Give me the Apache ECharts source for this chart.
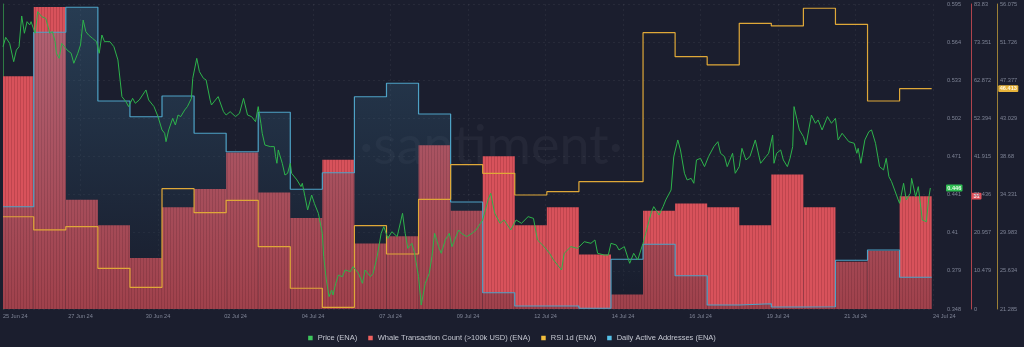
<!DOCTYPE html>
<html>
<head>
<meta charset="utf-8">
<title>ENA — Price, Whale Transactions, RSI, Active Addresses</title>
<script src="https://cdn.jsdelivr.net/npm/echarts@6.0.0/dist/echarts.min.js"></script>
<style>
  html, body { margin: 0; padding: 0; background: #1b1e2e; }
  #chart { width: 1024px; height: 347px; }
</style>
</head>
<body>
<div id="chart"></div>
<script>
// Time is measured in hours from 25 Jun 2024 01:00; the view spans 29 days.
const xTickLabels = ['25 Jun 24', '27 Jun 24', '30 Jun 24', '02 Jul 24', '04 Jul 24', '07 Jul 24',
  '09 Jul 24', '12 Jul 24', '14 Jul 24', '16 Jul 24', '19 Jul 24', '21 Jul 24', '24 Jul 24'];

const priceTickLabels = ['0.348', '0.379', '0.41', '0.441', '0.471', '0.502', '0.533', '0.564', '0.595'];
const whaleTickLabels = ['0', '10.479', '20.957', '31.436', '41.915', '52.394', '62.872', '73.351', '83.83'];
const rsiTickLabels = ['21.285', '25.634', '29.983', '34.331', '38.68', '43.029', '47.377', '51.726', '56.075'];

// Daily metrics, one value per day (first and last day are partial).
const whaleCount = [64, 83, 30, 23, 14, 28, 33, 43, 32, 25, 41, 18, 20, 45, 27, 42, 23, 28, 15, 4,
  27, 29, 28, 23, 37, 28, 13, 16, 31];
const activeAddresses = [818, 2214, 2414, 1664, 1538, 1704, 1406, 1258, 1574, 958, 1090, 1698, 1806,
  1560, 856, 130, 24, 24, 6, 398, 518, 266, 32, 42, 16, 18, 390, 472, 254];
const rsi1d = [31.81, 30.30, 30.67, 25.93, 23.76, 35.01, 32.27, 33.68, 28.39, 23.65, 21.48, 30.79,
  27.56, 33.80, 37.75, 36.76, 34.29, 34.67, 35.81, 35.81, 52.80, 50.07, 49.12, 53.87, 53.57, 55.59,
  53.76, 45.01, 46.413];

// Intraday ENA price (USD).
const priceHours = [0, 2, 5, 8, 10, 12, 14, 16, 18, 20, 21, 24, 26, 27, 29, 32, 35, 37, 39, 40, 42, 44,
  46, 48, 51, 53, 56, 58, 60, 62, 64, 67, 70, 72, 74, 76, 80, 83, 86, 89, 92, 94, 97, 99, 102, 107,
  109, 113, 116, 119, 121, 122, 124, 127, 129, 131, 133, 136, 138, 141, 142, 143, 145, 147, 150, 152,
  155, 156, 161, 165, 167, 170, 174, 177, 180, 183, 186, 189, 191, 193, 194, 196, 200, 203, 204, 205,
  206, 209, 211, 213, 215, 216, 220, 223, 224, 226, 228, 231, 233, 236, 239, 240, 242, 244, 246, 247,
  249, 250, 251, 254, 256, 260, 262, 266, 269, 271, 275, 277, 280, 283, 285, 288, 291, 295, 299, 301,
  303, 306, 308, 311, 313, 316, 319, 321, 323, 326, 328, 331, 334, 336, 341, 343, 347, 351, 354, 359,
  363, 365, 368, 372, 375, 380, 384, 388, 393, 397, 400, 405, 409, 412, 418, 420, 425, 430, 435, 440,
  443, 445, 450, 453, 455, 459, 461, 465, 469, 472, 475, 479, 481, 485, 487, 491, 494, 496, 500, 502,
  505, 507, 510, 512, 515, 517, 519, 522, 525, 528, 532, 535, 537, 540, 542, 546, 548, 551, 553, 556,
  559, 563, 567, 571, 573, 576, 577, 579, 582, 584, 587, 589, 591, 592, 596, 599, 601, 603, 605, 608,
  610, 613, 617, 620, 623, 625, 628, 633, 637, 639, 640, 642, 645, 648, 650, 653, 656, 659, 661, 663,
  665, 670, 671, 674, 676, 679, 680, 683, 685, 688, 691, 693, 694];
const priceUsd = [0.5604, 0.5680, 0.5631, 0.5483, 0.5577, 0.5604, 0.5853, 0.5713, 0.5807, 0.5780,
  0.5807, 0.5713, 0.5888, 0.5880, 0.5847, 0.5834, 0.5713, 0.5726, 0.5645, 0.5551, 0.5510, 0.5631,
  0.5604, 0.5577, 0.5551, 0.5470, 0.5551, 0.5618, 0.5820, 0.5726, 0.5699, 0.5672, 0.5645, 0.5551,
  0.5699, 0.5645, 0.5645, 0.5604, 0.5497, 0.5200, 0.5159, 0.5119, 0.5186, 0.5146, 0.5173, 0.5254,
  0.5173, 0.5119, 0.5038, 0.4930, 0.4903, 0.4835, 0.4930, 0.5024, 0.4970, 0.5051, 0.5038, 0.5092,
  0.5119, 0.5186, 0.5348, 0.5335, 0.5510, 0.5402, 0.5348, 0.5335, 0.5173, 0.5132, 0.5200, 0.5078,
  0.5051, 0.5078, 0.5038, 0.5065, 0.5186, 0.5051, 0.5038, 0.4997, 0.5119, 0.4984, 0.4903, 0.4808,
  0.4795, 0.4795, 0.4714, 0.4660, 0.4768, 0.4660, 0.4565, 0.4579, 0.4660, 0.4579, 0.4525, 0.4471,
  0.4498, 0.4390, 0.4282, 0.4403, 0.4336, 0.4255, 0.4093, 0.3904, 0.3715, 0.3580, 0.3634, 0.3593,
  0.3688, 0.3674, 0.3755, 0.3742, 0.3796, 0.3782, 0.3823, 0.3769, 0.3688, 0.3796, 0.3742, 0.3769,
  0.3904, 0.4093, 0.4147, 0.4052, 0.4106, 0.4066, 0.4255, 0.4093, 0.3971, 0.4012, 0.3931, 0.3742,
  0.3512, 0.3688, 0.3769, 0.3904, 0.4093, 0.3985, 0.3931, 0.4039, 0.4093, 0.3985, 0.4120, 0.4093,
  0.4066, 0.4093, 0.4120, 0.4201, 0.4363, 0.4417, 0.4255, 0.4174, 0.4201, 0.4120, 0.4201, 0.4174,
  0.4228, 0.4214, 0.4039, 0.3985, 0.3931, 0.3877, 0.3796, 0.3931, 0.3985, 0.3971, 0.4025, 0.4012,
  0.4039, 0.3931, 0.3917, 0.3917, 0.4012, 0.3998, 0.3958, 0.3985, 0.3850, 0.3931, 0.3877, 0.4012,
  0.4093, 0.4255, 0.4309, 0.4241, 0.4309, 0.4363, 0.4444, 0.4714, 0.4849, 0.4768, 0.4579, 0.4525,
  0.4538, 0.4498, 0.4687, 0.4700, 0.4633, 0.4714, 0.4795, 0.4835, 0.4741, 0.4714, 0.4633, 0.4741,
  0.4579, 0.4633, 0.4781, 0.4687, 0.4714, 0.4849, 0.4660, 0.4714, 0.4741, 0.4889, 0.4660, 0.4741,
  0.4768, 0.4687, 0.4633, 0.4700, 0.4795, 0.5119, 0.4930, 0.4876, 0.4808, 0.4930, 0.5051, 0.4984,
  0.5011, 0.4930, 0.5038, 0.4984, 0.5024, 0.4849, 0.4903, 0.4835, 0.4822, 0.4741, 0.4781, 0.4660,
  0.4849, 0.4916, 0.4930, 0.4822, 0.4633, 0.4606, 0.4700, 0.4552, 0.4511, 0.4363, 0.4336, 0.4498,
  0.4363, 0.4417, 0.4538, 0.4390, 0.4471, 0.4201, 0.4187, 0.4390, 0.446];

// ---- layout / style ----
const FONT = 'Liberation Sans';
const HOURS = 696;                 // 29 days
const X_STEP = HOURS / 12;         // one x tick every 58 h
const priceAxis = { min: 0.348, max: 0.595 };
const whaleAxis = { min: 0, max: 83.83 };
const rsiAxis = { min: 21.285, max: 56.075 };
const daaAxis = { min: 0, max: 2440 };

const dayStart = k => (k === 0 ? 0 : 24 * k - 1);
const dayEnd = k => 24 * k + 23;

// Step-line data: each day's value held across its span, closed at the last day's end.
function stepData(values) {
  const d = values.map((v, k) => [dayStart(k), v]);
  d.push([dayEnd(values.length - 1), values[values.length - 1]]);
  return d;
}

// Fine vertical striping used for the whale-count columns.
function stripePattern() {
  const c = document.createElement('canvas');
  c.width = 3; c.height = 4;
  const g = c.getContext('2d');
  g.fillStyle = '#d8525b'; g.fillRect(0, 0, 3, 4);
  g.fillStyle = '#bf454e'; g.fillRect(2, 0, 1, 4);
  return { image: c, repeat: 'repeat' };
}
const whaleFill = stripePattern();

function tickFormatter(labels, axis) {
  const step = (axis.max - axis.min) / (labels.length - 1);
  return v => labels[Math.round((v - axis.min) / step)] ?? '';
}

const axisLabelStyle = { color: '#7f8496', fontSize: 5.6, fontFamily: FONT, margin: 3 };

function valueAxis(axis, labels, offset, lineColor, withGrid) {
  return {
    type: 'value', position: 'right', offset,
    min: axis.min, max: axis.max, interval: (axis.max - axis.min) / (labels.length - 1),
    axisLine: { show: true, lineStyle: { color: lineColor, width: 1 } },
    axisTick: { show: false },
    axisLabel: Object.assign({ formatter: tickFormatter(labels, axis) }, axisLabelStyle),
    splitLine: { show: withGrid, lineStyle: { color: 'rgba(255,255,255,0.055)', type: [2, 3] } }
  };
}

const chart = echarts.init(document.getElementById('chart'), null, { renderer: 'canvas' });

chart.setOption({
  animation: false,
  backgroundColor: '#1b1e2e',
  grid: { left: 0, right: 91, top: 4, bottom: 38, containLabel: false },
  legend: {
    top: 329, left: 'center', icon: 'rect', itemWidth: 4.5, itemHeight: 4.5, itemGap: 11,
    textStyle: { color: '#c4c7d1', fontSize: 7.5, fontFamily: FONT },
    data: [
      { name: 'Price (ENA)', itemStyle: { color: '#3cc65c' } },
      { name: 'Whale Transaction Count (>100k USD) (ENA)', itemStyle: { color: '#f0615f' } },
      { name: 'RSI 1d (ENA)', itemStyle: { color: '#f2bd3c' } },
      { name: 'Daily Active Addresses (ENA)', itemStyle: { color: '#55c1e8' } }
    ]
  },
  xAxis: {
    type: 'value', min: 0, max: HOURS, interval: X_STEP,
    axisLine: { show: false }, axisTick: { show: false },
    axisLabel: {
      color: '#7f8496', fontSize: 5.6, fontFamily: FONT, margin: 4,
      alignMinLabel: 'left', alignMaxLabel: 'left',
      formatter: v => xTickLabels[Math.round(v / X_STEP)] ?? ''
    },
    splitLine: { show: true, lineStyle: { color: 'rgba(255,255,255,0.05)', type: [2, 3] } }
  },
  yAxis: [
    valueAxis(priceAxis, priceTickLabels, 11, '#2e7a44', true),
    valueAxis(whaleAxis, whaleTickLabels, 38, '#b0444d', false),
    valueAxis(rsiAxis, rsiTickLabels, 64, '#9c8036', false),
    { type: 'value', show: false, min: daaAxis.min, max: daaAxis.max, splitLine: { show: false } }
  ],
  series: [
    {
      name: 'Whale Transaction Count (>100k USD) (ENA)',
      type: 'custom', yAxisIndex: 1, z: 1,
      itemStyle: { color: '#f0615f' },
      encode: { x: [0, 1], y: 2 },
      data: whaleCount.map((v, k) => [dayStart(k), dayEnd(k), v]),
      renderItem: (params, api) => {
        const top = api.coord([api.value(0), api.value(2)]);
        const bottom = api.coord([api.value(1), 0]);
        return {
          type: 'rect',
          shape: { x: top[0], y: top[1], width: bottom[0] - top[0], height: bottom[1] - top[1] },
          style: { fill: whaleFill }
        };
      }
    },
    {
      name: 'Daily Active Addresses (ENA)',
      type: 'line', yAxisIndex: 3, z: 2, step: 'end', showSymbol: false, color: '#55c1e8',
      lineStyle: { color: '#4ea2c6', width: 1.2 },
      areaStyle: {
        color: new echarts.graphic.LinearGradient(0, 0, 0, 1, [
          { offset: 0, color: 'rgba(72,142,182,0.38)' },
          { offset: 1, color: 'rgba(16,22,36,0.40)' }
        ])
      },
      data: stepData(activeAddresses)
    },
    {
      name: 'RSI 1d (ENA)',
      type: 'line', yAxisIndex: 2, z: 3, step: 'end', showSymbol: false, color: '#f2bd3c',
      lineStyle: { color: '#dfa838', width: 1.2 },
      data: stepData(rsi1d)
    },
    {
      name: 'Price (ENA)',
      type: 'line', yAxisIndex: 0, z: 4, showSymbol: false, color: '#3cc65c',
      lineStyle: { color: '#2db34b', width: 1 },
      data: priceHours.map((h, i) => [h, priceUsd[i]])
    }
  ]
});

// Latest-value tags on each axis, plus the faint brand mark behind the plot.
function valueTag(axisIndex, value, text, x, width, bg, fg) {
  const y = chart.convertToPixel({ yAxisIndex: axisIndex }, value);
  return {
    type: 'group', z: 20,
    children: [
      { type: 'rect', shape: { x, y: y - 3.4, width, height: 6.8, r: 1 }, style: { fill: bg } },
      { type: 'text', style: { text, x: x + width / 2, y, align: 'center', verticalAlign: 'middle',
        fill: fg, font: 'bold 5.6px ' + FONT } }
    ]
  };
}

chart.setOption({
  graphic: [
    { type: 'text', z: 0, style: { text: '·santiment·', x: 491, y: 147, align: 'center',
      verticalAlign: 'middle', font: '54px Lato', fill: 'rgba(255,255,255,0.045)' } },
    valueTag(0, priceUsd[priceUsd.length - 1], '0.446', 946, 16.5, '#2fbd52', '#eafbe9'),
    valueTag(1, whaleCount[whaleCount.length - 1], '31', 971.5, 10, '#e0505a', '#fde9ea'),
    valueTag(2, rsi1d[rsi1d.length - 1], '46.413', 998.3, 20, '#e8b43a', '#fff6e0')
  ]
});
</script>
</body>
</html>
